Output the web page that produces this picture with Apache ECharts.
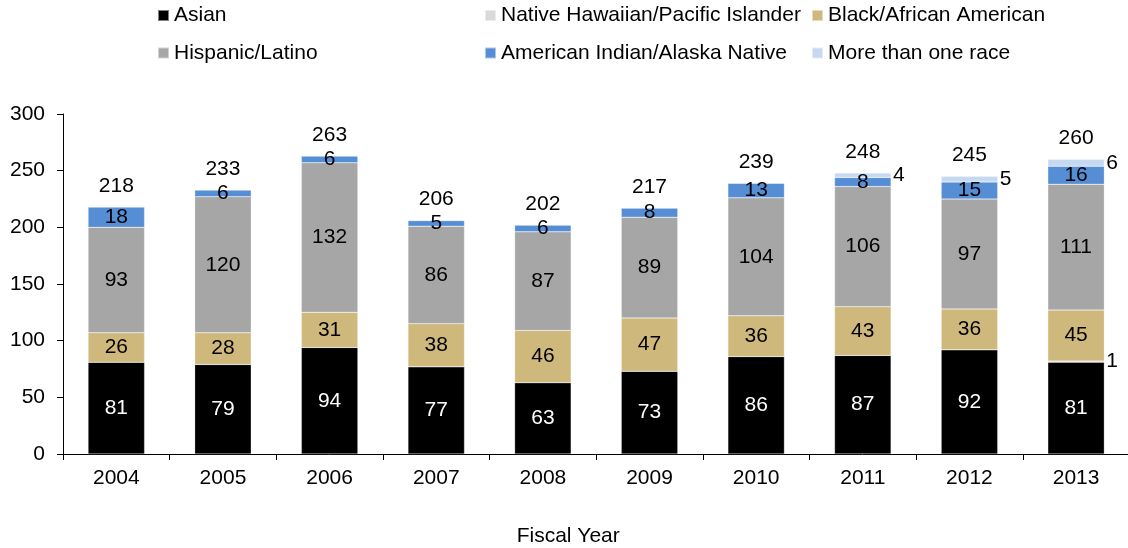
<!DOCTYPE html>
<html>
<head>
<meta charset="utf-8">
<script src="https://cdn.jsdelivr.net/npm/echarts@6/dist/echarts.min.js"></script>
<style>
html,body{margin:0;padding:0;background:#fff;}
#chart{width:1128px;height:548px;}
</style>
</head>
<body>
<div id="chart"></div>
<script>
const years = ['2004','2005','2006','2007','2008','2009','2010','2011','2012','2013'];
const asian = [81, 79, 94, 77, 63, 73, 86, 87, 92, 81];
const nativeHawaiian = [0, 0, 0, 0, 0, 0, 0, 0, 0, 1];
const black = [26, 28, 31, 38, 46, 47, 36, 43, 36, 45];
const hispanic = [93, 120, 132, 86, 87, 89, 104, 106, 97, 111];
const amIndian = [18, 6, 6, 5, 6, 8, 13, 8, 15, 16];
const multiRace = [0, 0, 0, 0, 0, 0, 0, 4, 5, 6];
const yTicks = [0, 50, 100, 150, 200, 250, 300];

const totals = years.map((_, i) => asian[i] + nativeHawaiian[i] + black[i] + hispanic[i] + amIndian[i] + multiRace[i]);

const FONT = 'Liberation Sans, Arial, sans-serif';
const FS = 21;
const hideZero = p => (p.value === 0 ? '' : String(p.value));

function barSeries(name, data, color, labelColor, labelPos) {
  return {
    name: name,
    type: 'bar',
    stack: 'total',
    data: data,
    barWidth: '53%',
    itemStyle: { color: color, borderColor: 'rgba(255,255,255,0.5)', borderWidth: 0.5 },
    label: {
      show: true,
      position: labelPos,
      distance: 2,
      color: labelColor,
      fontSize: FS,
      fontFamily: FONT,
      formatter: hideZero
    },
    emphasis: { disabled: true }
  };
}

const legendCommon = {
  orient: 'vertical',
  padding: 0,
  itemWidth: 11,
  itemHeight: 11,
  itemGap: 15.5,
  icon: 'rect',
  textStyle: { fontSize: FS, fontFamily: FONT, color: '#000', lineHeight: 22 },
  selectedMode: false
};

const chart = echarts.init(document.getElementById('chart'), null, { renderer: 'canvas' });
chart.setOption({
  animation: false,
  backgroundColor: '#fff',
  textStyle: { fontFamily: FONT },
  legend: [
    Object.assign({}, legendCommon, { left: 157, top: 4.5, data: ['Asian', 'Hispanic/Latino'] }),
    Object.assign({}, legendCommon, { left: 484, top: 4.5, data: ['Native Hawaiian/Pacific Islander', 'American Indian/Alaska Native'] }),
    Object.assign({}, legendCommon, { left: 811, top: 4.5, data: ['Black/African American', 'More than one race'] })
  ],
  grid: { left: 63, right: -1.4, top: 114, bottom: 94, containLabel: false, outerBoundsMode: 'none' },
  xAxis: {
    type: 'category',
    data: years,
    name: 'Fiscal Year',
    nameLocation: 'middle',
    nameGap: 72,
    nameTextStyle: { fontSize: FS, fontFamily: FONT, color: '#000', padding: [0, 56, 0, 0] },
    axisLine: { lineStyle: { color: '#000', width: 1 } },
    axisTick: { show: true, alignWithLabel: false, length: 6, lineStyle: { color: '#000' } },
    axisLabel: { fontSize: FS, fontFamily: FONT, color: '#000', margin: 14 },
    splitLine: { show: false }
  },
  yAxis: {
    type: 'value',
    min: yTicks[0],
    max: yTicks[yTicks.length - 1],
    interval: 50,
    axisLine: { show: true, lineStyle: { color: '#000', width: 1 } },
    axisTick: { show: true, length: 6, lineStyle: { color: '#000' } },
    axisLabel: { fontSize: FS, fontFamily: FONT, color: '#000', margin: 18 },
    splitLine: { show: false }
  },
  series: [
    barSeries('Asian', asian, '#000000', '#ffffff', 'inside'),
    barSeries('Native Hawaiian/Pacific Islander', nativeHawaiian, '#d9d9d9', '#000000', 'right'),
    barSeries('Black/African American', black, '#cfb87c', '#000000', 'inside'),
    barSeries('Hispanic/Latino', hispanic, '#a5a6a5', '#000000', 'inside'),
    barSeries('American Indian/Alaska Native', amIndian, '#558ed5', '#000000', 'inside'),
    barSeries('More than one race', multiRace, '#c6d9f1', '#000000', 'right'),
    {
      name: 'Total',
      type: 'scatter',
      data: totals,
      symbolSize: 0,
      itemStyle: { opacity: 1 },
      label: {
        show: true,
        position: 'top',
        distance: 10.5,
        color: '#000',
        opacity: 1,
        fontSize: FS,
        fontFamily: FONT
      },
      emphasis: { disabled: true },
      z: 10
    }
  ]
});
</script>
</body>
</html>
